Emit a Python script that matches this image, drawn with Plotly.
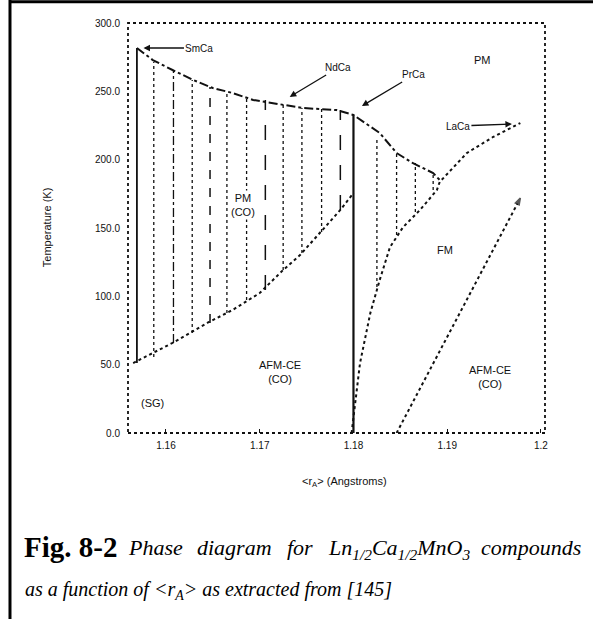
import plotly.graph_objects as go

# ---------------- data ----------------
# upper boundary of the charge-ordered dome (T_CO)
tco_x = [1.1569, 1.1586, 1.1607, 1.1629, 1.1650, 1.1671, 1.1693, 1.1725, 1.1746,
         1.1782, 1.1800, 1.1828, 1.1846, 1.1863, 1.1885, 1.1892]
tco_y = [281.7, 272.9, 265.6, 258.3, 252.4, 248.8, 243.7, 240.0, 237.8,
         236.3, 232.7, 219.5, 204.9, 197.6, 190.2, 185.1]

# lower boundary of the left dome (PM(CO) / AFM-CE(CO))
low_x = [1.1565, 1.1607, 1.1644, 1.1671, 1.1700, 1.1725, 1.1743, 1.1764, 1.1786, 1.1800]
low_y = [51.2, 65.9, 80.5, 90.0, 102.4, 119.3, 130.2, 146.3, 163.2, 175.6]

# vertical boundary at <rA> = 1.18
vert_x = [1.1800, 1.1800]
vert_y = [0.0, 232.7]

# FM boundary and T_C line
fm_x = [1.1798, 1.1807, 1.1818, 1.1828, 1.1839, 1.1853, 1.1871, 1.1889,
        1.1892, 1.1921, 1.1949, 1.1978]
fm_y = [0.0, 51.2, 87.8, 112.0, 136.1, 150.7, 163.2, 177.8,
        183.7, 204.9, 216.6, 226.8]

# FM / AFM-CE(CO) boundary (right)
afm_x = [1.1846, 1.1978]
afm_y = [0.0, 171.9]

# hatching of the charge-ordered region
hatch_x = [1.1569, 1.1587, 1.1608, 1.1628, 1.1647, 1.1665, 1.1686, 1.1706,
           1.1725, 1.1745, 1.1766, 1.1786, 1.1825, 1.1846, 1.1866, 1.1885]
hatch_top = [281.7, 271.5, 265.6, 258.3, 253.2, 250.2, 245.9, 243.7,
             240.0, 237.8, 237.1, 236.3, 216.6, 204.9, 197.6, 190.2]
hatch_bot = [51.2, 55.6, 65.9, 73.2, 80.5, 87.8, 97.3, 104.6,
             119.3, 131.7, 147.1, 163.2, 106.8, 144.9, 161.7, 177.8]

# compound labels (arrow tip positions)
cmp_names = ["SmCa", "NdCa", "PrCa", "LaCa"]
cmp_x = [1.1576, 1.1732, 1.1809, 1.1969]
cmp_y = [281.7, 245.9, 239.3, 226.1]

# phase labels
phase_text = ["PM", "PM<br>(CO)", "AFM-CE<br>(CO)", "FM", "AFM-CE<br>(CO)", "(SG)"]
phase_x = [1.1938, 1.1682, 1.1722, 1.1898, 1.1946, 1.1586]
phase_y = [272.9, 166.8, 44.6, 133.9, 41.0, 22.0]

x_ticks = [1.16, 1.17, 1.18, 1.19, 1.20]
x_tick_text = ["1.16", "1.17", "1.18", "1.19", "1.2"]
y_ticks = [0, 50, 100, 150, 200, 250, 300]

# ---------------- styles ----------------
hatch_dash = ["solid", "dot", "dashdot", "dot", "dash", "dot", "dot", "longdash",
              "dot", "dot", "dot", "longdash", "dot", "dot", "dot", "dot"]
hatch_width = [1.8, 1.3, 1.3, 1.3, 1.5, 1.3, 1.3, 1.5,
               1.3, 1.3, 1.3, 1.5, 1.3, 1.3, 1.3, 1.3]
phase_bg = ["rgba(0,0,0,0)", "white", "rgba(0,0,0,0)", "rgba(0,0,0,0)", "rgba(0,0,0,0)", "rgba(0,0,0,0)"]
INK = "#111111"
SANS = "Liberation Sans"
SERIF = "Liberation Serif"

fig = go.Figure()

for i in range(len(hatch_x)):
    fig.add_trace(go.Scatter(x=[hatch_x[i], hatch_x[i]], y=[hatch_bot[i], hatch_top[i]],
                             mode="lines", line=dict(color=INK, width=hatch_width[i], dash=hatch_dash[i]),
                             hoverinfo="skip", showlegend=False))

fig.add_trace(go.Scatter(x=tco_x, y=tco_y, mode="lines",
                         line=dict(color=INK, width=2, dash="dashdot"), showlegend=False))
fig.add_trace(go.Scatter(x=low_x, y=low_y, mode="lines",
                         line=dict(color=INK, width=2, dash="dot"), showlegend=False))
fig.add_trace(go.Scatter(x=vert_x, y=vert_y, mode="lines",
                         line=dict(color=INK, width=2.2, dash="solid"), showlegend=False))
fig.add_trace(go.Scatter(x=fm_x, y=fm_y, mode="lines",
                         line=dict(color=INK, width=2, dash="dot"), showlegend=False))
fig.add_trace(go.Scatter(x=afm_x, y=afm_y, mode="lines+markers",
                         line=dict(color=INK, width=2, dash="dot"),
                         marker=dict(symbol=["cross-thin", "arrow"], size=[9, 7], angleref="previous",
                                     color=INK, line=dict(color=INK, width=1.5)),
                         showlegend=False))

# arrow offsets for the compound labels (px)
cmp_ax = [56, 48, 52, -54]
cmp_ay = [0, -29, -31, 2]
for t, x, y, ax, ay in zip(cmp_names, cmp_x, cmp_y, cmp_ax, cmp_ay):
    fig.add_annotation(x=x, y=y, text=t, showarrow=True, arrowhead=2, arrowsize=1,
                       arrowwidth=1.3, arrowcolor=INK, ax=ax, ay=ay,
                       font=dict(family=SANS, size=10, color=INK))

for t, x, y, bg in zip(phase_text, phase_x, phase_y, phase_bg):
    fig.add_annotation(x=x, y=y, text=t, showarrow=False, bgcolor=bg,
                       font=dict(family=SANS, size=11, color=INK))

# axis titles
fig.add_annotation(xref="paper", yref="paper", x=0.52, y=-0.142, text="&lt;r<sub>A</sub>&gt; (Angstroms)",
                   showarrow=False, font=dict(family=SANS, size=11, color=INK))
fig.add_annotation(xref="paper", yref="paper", x=-0.213, y=0.5, text="Temperature (K)", textangle=-90,
                   showarrow=False, font=dict(family=SANS, size=11, color=INK))

# caption, first line justified to the right edge
cap1_text = ["<b>Fig. 8-2</b>", "<i>Phase</i>", "<i>diagram</i>", "<i>for</i>",
             "<i>Ln<sub>1/2</sub>Ca<sub>1/2</sub>MnO<sub>3</sub></i>", "<i>compounds</i>"]
cap1_x = [-0.2542, -0.0048, 0.1612, 0.3770, 0.4755, 1.0911]
cap1_anchor = ["left", "left", "left", "left", "left", "right"]
cap1_size = [29, 22, 22, 22, 22, 22]
cap1_top = [-0.2331, -0.2449, -0.2449, -0.2449, -0.2449, -0.2449]
for t, x, a, s, yt in zip(cap1_text, cap1_x, cap1_anchor, cap1_size, cap1_top):
    fig.add_annotation(xref="paper", yref="paper", x=x, y=yt, xanchor=a, yanchor="top",
                       text=t, showarrow=False, font=dict(family=SERIF, size=s, color="black"))
fig.add_annotation(xref="paper", yref="paper", x=-0.2518, y=-0.3488, xanchor="left", yanchor="top",
                   text="<i>as a function of &lt;r<sub>A</sub>&gt; as extracted from [145]</i>",
                   showarrow=False, font=dict(family=SERIF, size=20, color="black"))

# plot frame (dotted) and page border lines
fig.add_shape(type="rect", xref="paper", yref="paper", x0=0, y0=0, x1=1, y1=1,
              line=dict(color=INK, width=1.8, dash="dot"))
fig.add_shape(type="line", xref="paper", yref="paper", x0=-0.283, x1=-0.283, y0=-0.46, y1=1.06,
              line=dict(color="black", width=3))
fig.add_shape(type="line", xref="paper", yref="paper", x0=-0.283, x1=1.2, y0=1.052, y1=1.052,
              line=dict(color="black", width=3))

fig.update_xaxes(range=[1.15595, 1.20043], tickvals=x_ticks, ticktext=x_tick_text,
                 showgrid=False, zeroline=False, showline=False, ticks="inside", ticklen=4,
                 tickcolor=INK, ticklabelstandoff=5, tickfont=dict(family=SANS, size=10, color=INK))
fig.update_yaxes(range=[0, 300], tickvals=y_ticks, tickformat=".1f",
                 showgrid=False, zeroline=False, showline=False, ticks="", ticklabelstandoff=7,
                 tickfont=dict(family=SANS, size=10, color=INK))

fig.update_layout(width=593, height=619, margin=dict(l=128, r=48, t=23, b=186),
                  plot_bgcolor="white", paper_bgcolor="white", showlegend=False)

fig.write_html("out.html")
